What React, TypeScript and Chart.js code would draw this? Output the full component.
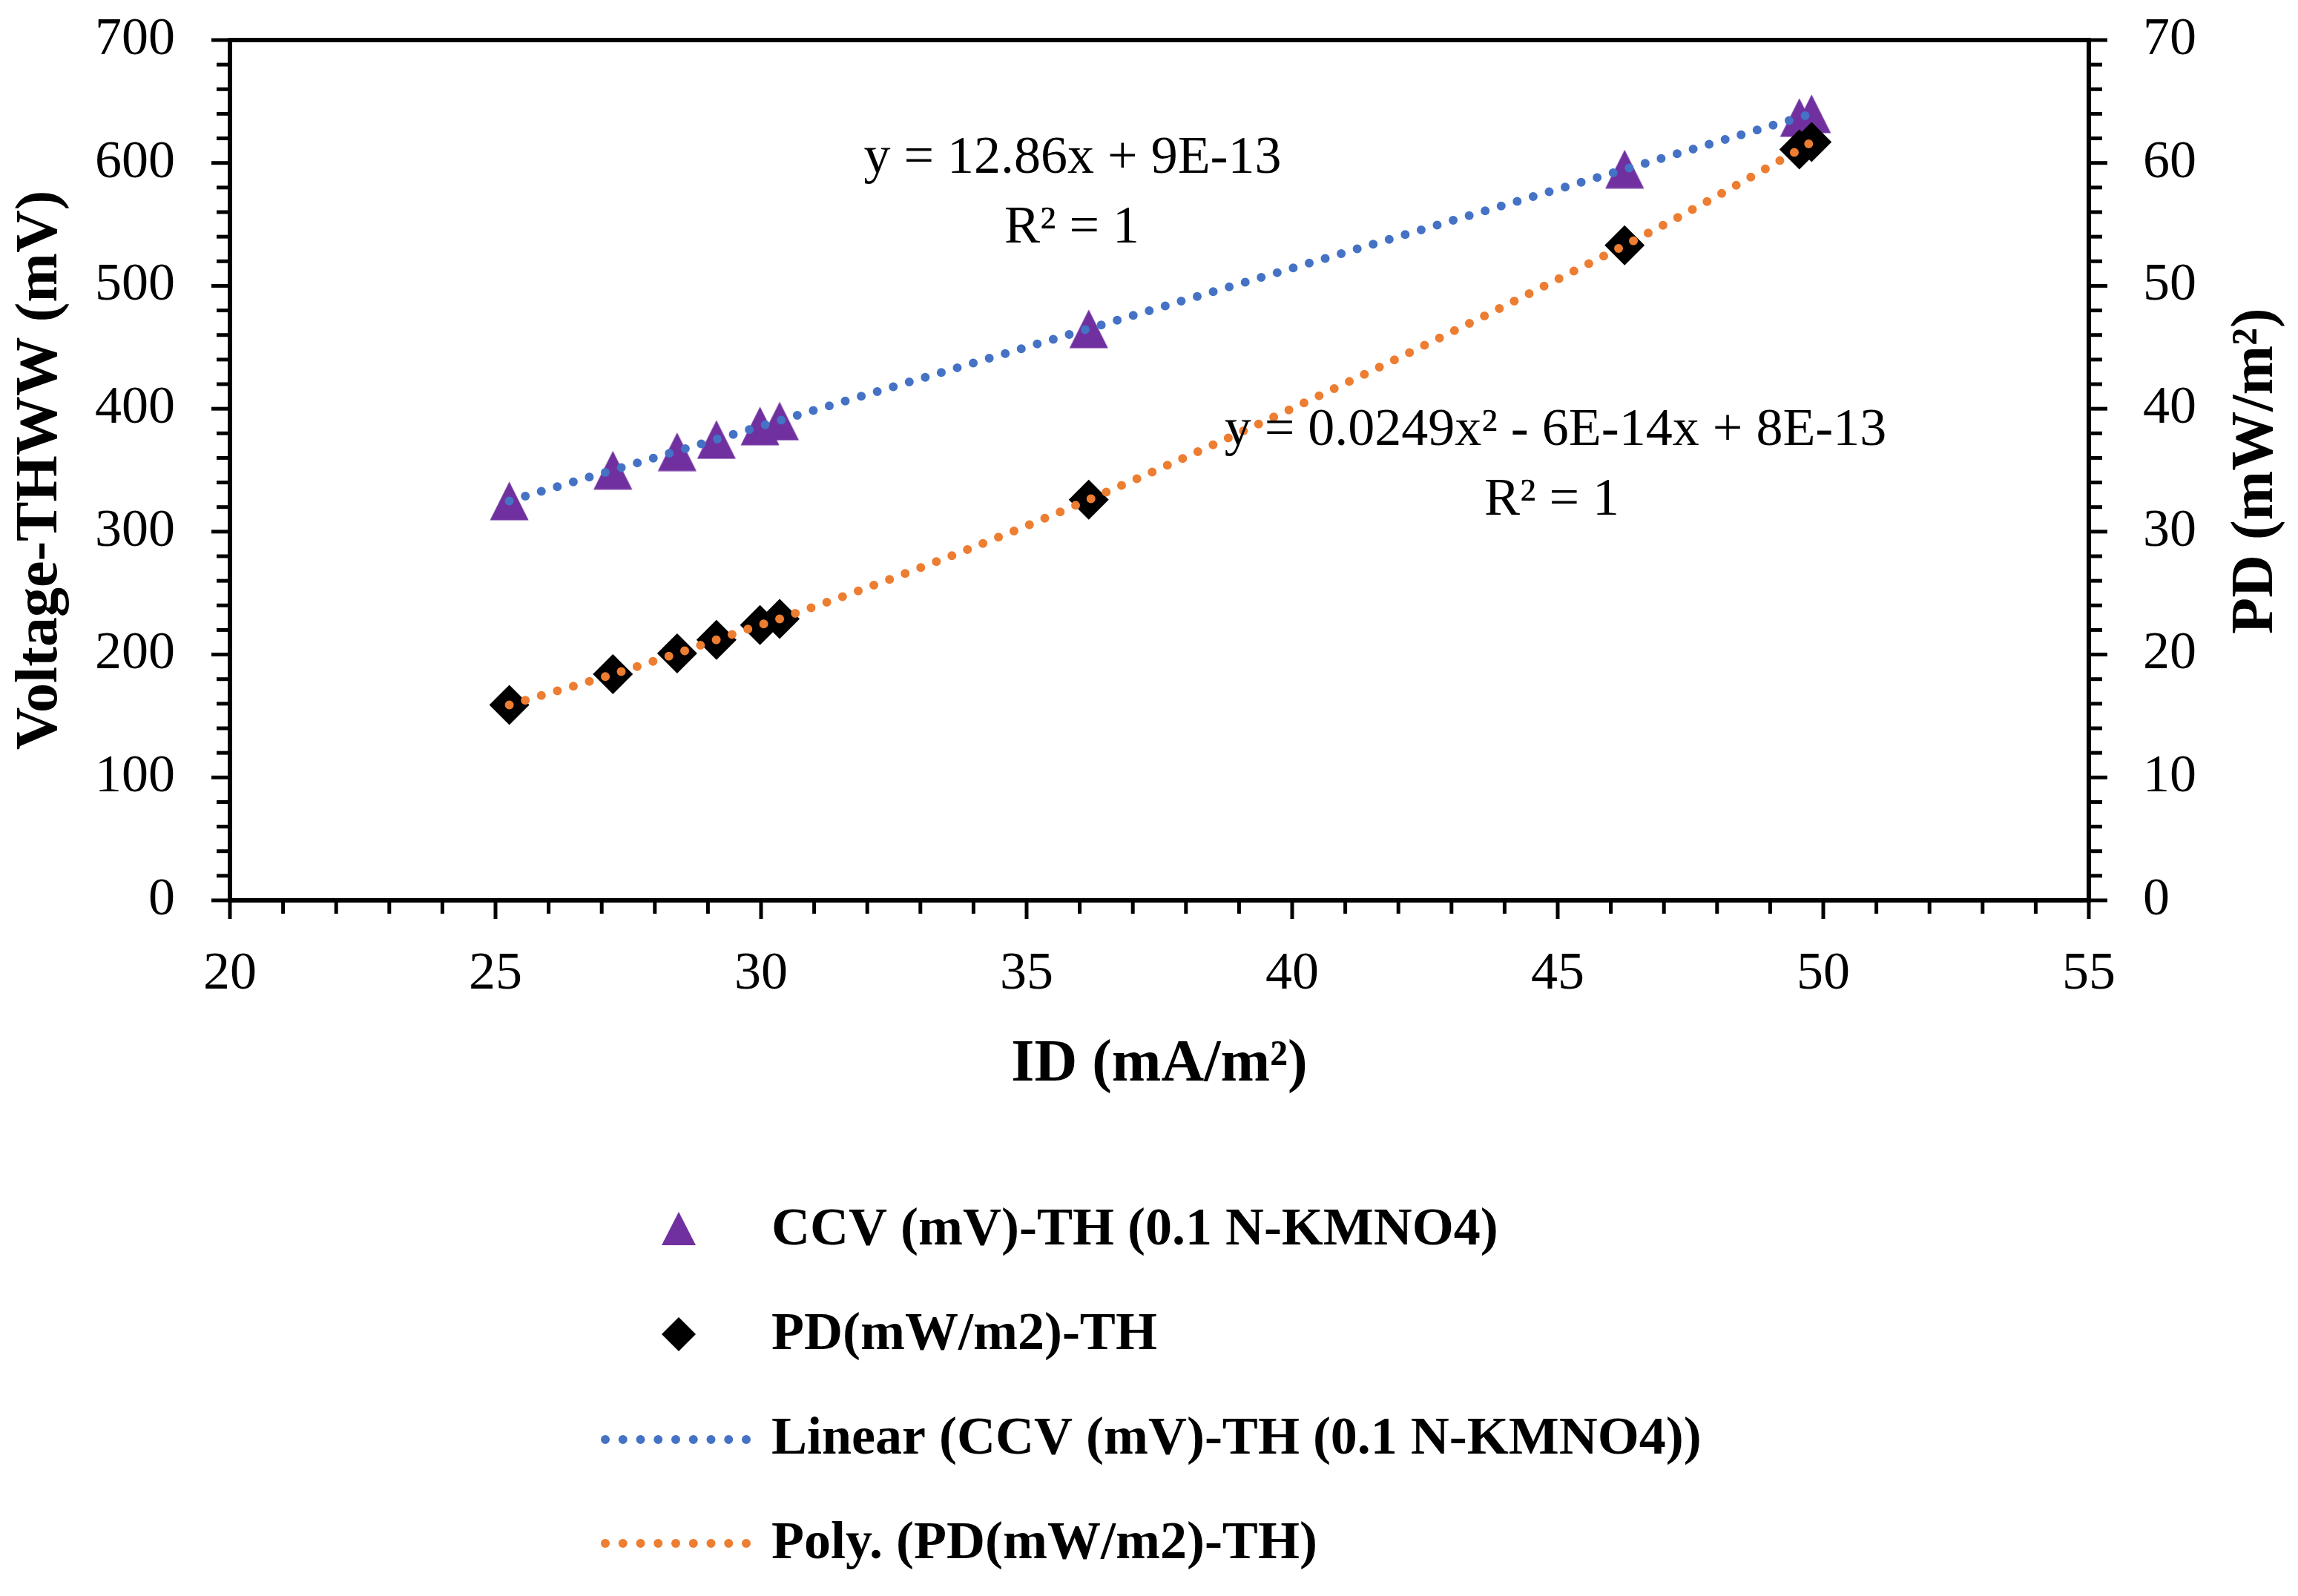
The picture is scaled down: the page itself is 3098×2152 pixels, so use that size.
import React, { useEffect, useRef } from 'react';
import { Chart, registerables } from 'chart.js';

Chart.register(...registerables);

// ---- data ----
const ID_VALUES = [25.26, 27.21, 28.42, 29.16, 29.98, 30.35, 36.17, 46.26, 49.55, 49.78];
const CCV_VALUES = [325, 350, 365, 375, 386, 390, 465, 595, 637, 640];
const PD_VALUES = [15.9, 18.4, 20.1, 21.2, 22.4, 22.9, 32.6, 53.3, 61.1, 61.7];

const SERIES_LABELS = [
  'CCV (mV)-TH (0.1 N-KMNO4)',
  'PD(mW/m2)-TH',
  'Linear (CCV (mV)-TH (0.1 N-KMNO4))',
  'Poly. (PD(mW/m2)-TH)',
];
const EQ_LINEAR = ['y = 12.86x + 9E-13', 'R² = 1'];
const EQ_POLY = ['y = 0.0249x² - 6E-14x + 8E-13', 'R² = 1'];

const X_TITLE = 'ID (mA/m²)';
const Y_TITLE = 'Voltage-THWW (mV)';
const Y1_TITLE = 'PD (mW/m²)';

const X_RANGE = [20, 55];
const X_STEPS = [1, 5];
const Y_RANGE = [0, 700];
const Y_STEPS = [20, 100];
const Y1_RANGE = [0, 70];
const Y1_STEPS = [2, 10];

// ---- styling ----
const FONT = "'Liberation Serif', 'Times New Roman', serif";
const PURPLE = '#7030A0';
const BLUE = '#4472C4';
const ORANGE = '#ED7D31';
const BLACK = '#000000';

const W = 3098;
const H = 2152;

function makeTriangle(w: number, h: number, color: string) {
  const c = document.createElement('canvas');
  c.width = w;
  c.height = h;
  const g = c.getContext('2d')!;
  g.fillStyle = color;
  g.beginPath();
  g.moveTo(w / 2, 0.5);
  g.lineTo(w - 0.5, h - 0.5);
  g.lineTo(0.5, h - 0.5);
  g.closePath();
  g.fill();
  return c;
}

const isMult = (v: number, m: number) => Math.abs(v / m - Math.round(v / m)) < 1e-6;

const decorPlugin = {
  id: 'decor',
  afterDraw(chart: any) {
    const ctx: CanvasRenderingContext2D = chart.ctx;
    const a = chart.chartArea;
    ctx.save();
    // frame
    ctx.strokeStyle = BLACK;
    ctx.lineWidth = 6;
    ctx.lineJoin = 'miter';
    ctx.strokeRect(a.left, a.top, a.right - a.left, a.bottom - a.top);

    // tick marks
    ctx.lineWidth = 5;
    ctx.lineCap = 'butt';
    const drawTicks = (scale: any, major: number, side: string) => {
      scale.ticks.forEach((t: any) => {
        const p = scale.getPixelForValue(t.value);
        const len = isMult(t.value, major) ? 25 : 18;
        ctx.beginPath();
        if (side === 'bottom') {
          ctx.moveTo(p, a.bottom);
          ctx.lineTo(p, a.bottom + len);
        } else if (side === 'left') {
          ctx.moveTo(a.left, p);
          ctx.lineTo(a.left - len, p);
        } else {
          ctx.moveTo(a.right, p);
          ctx.lineTo(a.right + len, p);
        }
        ctx.stroke();
      });
    };
    drawTicks(chart.scales.x, X_STEPS[1], 'bottom');
    drawTicks(chart.scales.y, Y_STEPS[1], 'left');
    drawTicks(chart.scales.y1, Y1_STEPS[1], 'right');

    // right axis title (reads bottom to top)
    ctx.fillStyle = BLACK;
    ctx.font = `bold 80px ${FONT}`;
    ctx.textAlign = 'center';
    ctx.textBaseline = 'alphabetic';
    ctx.save();
    ctx.translate(a.right + 247, (a.top + a.bottom) / 2 + 1);
    ctx.rotate(-Math.PI / 2);
    ctx.fillText(Y1_TITLE, 0, 0);
    ctx.restore();

    // trendline equations
    ctx.font = `72px ${FONT}`;
    ctx.fillText(EQ_LINEAR[0], 1446, 233);
    ctx.fillText(EQ_LINEAR[1], 1445, 327);
    ctx.fillText(EQ_POLY[0], 2097, 600);
    ctx.fillText(EQ_POLY[1], 2092, 694);

    // legend
    const ds = chart.data.datasets;
    const markerX = 915;
    const textX = 1040;
    const rows = [1678, 1819, 1960, 2101];
    // triangle
    ctx.fillStyle = ds[0].backgroundColor;
    ctx.beginPath();
    ctx.moveTo(markerX, 1657 - 23);
    ctx.lineTo(markerX + 23, 1657 + 22);
    ctx.lineTo(markerX - 23, 1657 + 22);
    ctx.closePath();
    ctx.fill();
    // diamond
    ctx.fillStyle = ds[1].backgroundColor;
    ctx.beginPath();
    ctx.moveTo(markerX, 1799 - 23);
    ctx.lineTo(markerX + 23, 1799);
    ctx.lineTo(markerX, 1799 + 23);
    ctx.lineTo(markerX - 23, 1799);
    ctx.closePath();
    ctx.fill();
    // dotted samples
    const sample = (y: number, color: string) => {
      ctx.save();
      ctx.strokeStyle = color;
      ctx.lineWidth = 12;
      ctx.lineCap = 'round';
      ctx.setLineDash([0, 23.75]);
      ctx.beginPath();
      ctx.moveTo(816, y);
      ctx.lineTo(1007, y);
      ctx.stroke();
      ctx.restore();
    };
    sample(1941, ds[2].borderColor);
    sample(2081, ds[3].borderColor);

    ctx.fillStyle = BLACK;
    ctx.font = `bold 72px ${FONT}`;
    ctx.textAlign = 'left';
    SERIES_LABELS.forEach((lab, i) => ctx.fillText(lab, textX, rows[i]));

    ctx.restore();
  },
};

export default function App() {
  const ref = useRef<HTMLCanvasElement | null>(null);

  useEffect(() => {
    if (!ref.current) return;
    const tri = makeTriangle(53, 53, PURPLE);
    const n = ID_VALUES.length;
    const ccvPts = ID_VALUES.map((x, i) => ({ x, y: CCV_VALUES[i] }));
    const pdPts = ID_VALUES.map((x, i) => ({ x, y: PD_VALUES[i] }));
    const linPts = [
      { x: ID_VALUES[0], y: CCV_VALUES[0] },
      { x: ID_VALUES[n - 1], y: CCV_VALUES[n - 1] },
    ];

    const tickFont = { family: FONT, size: 72 };
    const titleFont = { family: FONT, size: 80, weight: 'bold' as const };

    const zeroPad = (s: any) => {
      s.paddingTop = 0;
      s.paddingBottom = 0;
      s.paddingLeft = 0;
      s.paddingRight = 0;
    };

    const chart = new Chart(ref.current, {
      type: 'scatter',
      data: {
        datasets: [
          {
            label: SERIES_LABELS[0],
            data: ccvPts,
            yAxisID: 'y',
            pointStyle: tri as any,
            pointRadius: 27,
            backgroundColor: PURPLE,
            borderColor: PURPLE,
            pointBorderWidth: 0,
            showLine: false,
            order: 3,
          },
          {
            label: SERIES_LABELS[1],
            data: pdPts,
            yAxisID: 'y1',
            pointStyle: 'rectRot',
            pointRadius: 27,
            backgroundColor: BLACK,
            borderColor: BLACK,
            pointBorderWidth: 0,
            showLine: false,
            order: 2,
          },
          {
            label: SERIES_LABELS[2],
            data: linPts,
            yAxisID: 'y',
            showLine: true,
            pointRadius: 0,
            borderColor: BLUE,
            backgroundColor: BLUE,
            borderWidth: 12,
            borderDash: [0, 22.5],
            borderCapStyle: 'round',
            order: 1,
          },
          {
            label: SERIES_LABELS[3],
            data: pdPts,
            yAxisID: 'y1',
            showLine: true,
            pointRadius: 0,
            borderColor: ORANGE,
            backgroundColor: ORANGE,
            borderWidth: 12,
            borderDash: [0, 22.5],
            borderCapStyle: 'round',
            cubicInterpolationMode: 'monotone',
            order: 0,
          },
        ] as any,
      },
      options: {
        animation: false,
        responsive: true,
        maintainAspectRatio: false,
        devicePixelRatio: 1,
        layout: { padding: { top: 54, left: 0, right: 0, bottom: 668 } },
        plugins: {
          legend: { display: false },
          tooltip: { enabled: false },
          title: { display: false },
        },
        scales: {
          x: {
            type: 'linear',
            position: 'bottom',
            min: X_RANGE[0],
            max: X_RANGE[1],
            grid: { display: false, drawTicks: false },
            border: { display: false },
            ticks: {
              stepSize: X_STEPS[0],
              autoSkip: false,
              maxRotation: 0,
              padding: 57,
              color: BLACK,
              font: tickFont,
              callback: (v: any) => (isMult(Number(v), X_STEPS[1]) ? String(v) : ''),
            },
            title: {
              display: true,
              text: X_TITLE,
              color: BLACK,
              font: titleFont,
              padding: { top: 0, bottom: 0 },
            },
            afterFit: (s: any) => {
              s.height = 270;
              zeroPad(s);
            },
          },
          y: {
            type: 'linear',
            position: 'left',
            min: Y_RANGE[0],
            max: Y_RANGE[1],
            grid: { display: false, drawTicks: false },
            border: { display: false },
            ticks: {
              stepSize: Y_STEPS[0],
              autoSkip: false,
              padding: 74,
              color: BLACK,
              font: tickFont,
              callback: (v: any) => (isMult(Number(v), Y_STEPS[1]) ? String(v) : ''),
            },
            title: {
              display: true,
              text: Y_TITLE,
              color: BLACK,
              font: titleFont,
              padding: { top: 7, bottom: 0 },
            },
            afterFit: (s: any) => {
              s.width = 310;
              zeroPad(s);
            },
          },
          y1: {
            type: 'linear',
            position: 'right',
            min: Y1_RANGE[0],
            max: Y1_RANGE[1],
            grid: { display: false, drawTicks: false },
            border: { display: false },
            ticks: {
              stepSize: Y1_STEPS[0],
              autoSkip: false,
              padding: 73,
              color: BLACK,
              font: tickFont,
              callback: (v: any) => (isMult(Number(v), Y1_STEPS[1]) ? String(v) : ''),
            },
            title: { display: false },
            afterFit: (s: any) => {
              s.width = W - 2816;
              zeroPad(s);
            },
          },
        },
      } as any,
      plugins: [decorPlugin],
    });
    return () => chart.destroy();
  }, []);

  return (
    <div style={{ position: 'absolute', left: 0, top: 0, width: W, height: H, background: '#fff' }}>
      <canvas ref={ref} />
    </div>
  );
}
